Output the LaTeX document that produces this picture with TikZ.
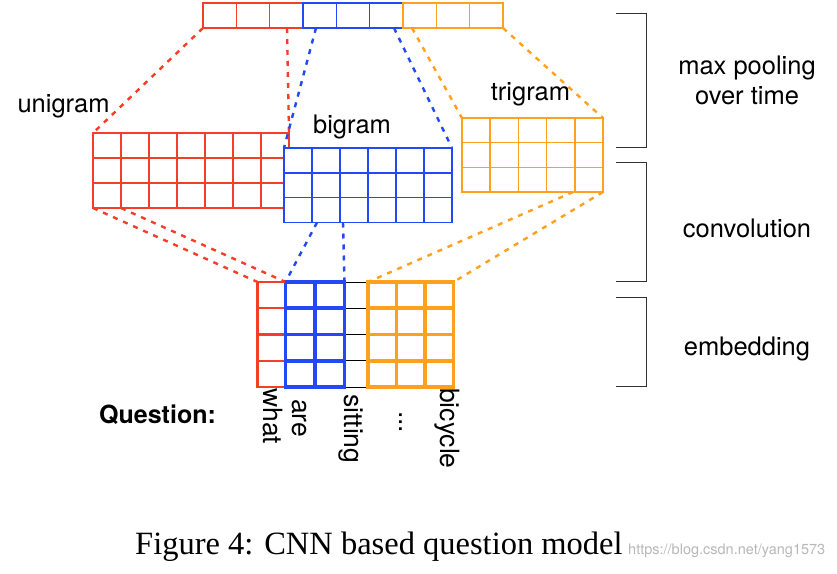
\documentclass[tikz,border=0pt]{standalone}
\usepackage{fontspec}
\setmainfont{Liberation Serif}
\newfontfamily\labelfont{TeX Gyre Heros}
\usetikzlibrary{calc}
\definecolor{myred}{RGB}{245,62,40}
\definecolor{myblue}{RGB}{35,72,245}
\definecolor{myorange}{RGB}{255,160,30}
\definecolor{brk}{RGB}{50,50,50}
\newcommand\mygridcols[3]{% name, cols, style
  \pgfmathtruncatemacro\mycolsm{#2-1}%
  \foreach \i in {1,...,\mycolsm}{\draw[#3] ($(#1.north west)!\i/#2!(#1.north east)$) -- ($(#1.south west)!\i/#2!(#1.south east)$);}%
}
\newcommand\mygridrows[3]{% name, rows, style
  \pgfmathtruncatemacro\myrowsm{#2-1}%
  \foreach \j in {1,...,\myrowsm}{\draw[#3] ($(#1.north west)!\j/#2!(#1.south west)$) -- ($(#1.north east)!\j/#2!(#1.south east)$);}%
}
\begin{document}
\begin{tikzpicture}[x=1pt,y=-1pt,
  box/.style={inner sep=0pt,outer sep=0pt,anchor=north west},
  thinred/.style={draw=myred,line width=1.5pt},
  thinblue/.style={draw=myblue,line width=1.5pt},
  thinorange/.style={draw=myorange,line width=1.5pt},
  dashr/.style={draw=myred,line width=2.4pt,dash pattern=on 5pt off 6pt},
  dashb/.style={draw=myblue,line width=2.4pt,dash pattern=on 5pt off 6pt},
  dasho/.style={draw=myorange,line width=2.4pt,dash pattern=on 5pt off 6pt},
  lbl/.style={font=\labelfont\fontsize{25.5}{30}\selectfont,inner sep=0pt,anchor=base},
  word/.style={font=\labelfont\fontsize{26.5}{30}\selectfont,inner sep=0pt,anchor=base west,rotate=-90},
  brack/.style={draw=brk,line width=1.5pt}]
\path[use as bounding box,fill=white] (0,0) rectangle (837,573);

% ---- top pooled vector
\node[box,thinred,fill=white,minimum width=100pt,minimum height=25pt] (barR) at (203,3) {};
\node[box,thinblue,fill=white,minimum width=100pt,minimum height=25pt] (barB) at (303,3) {};
\node[box,thinorange,fill=white,minimum width=100pt,minimum height=25pt] (barO) at (403,3) {};
\mygridcols{barR}{3}{thinred}
\mygridcols{barB}{3}{thinblue}
\mygridcols{barO}{3}{thinorange}

% ---- dashed connector end points
\coordinate (rTop2) at (287,28);
\coordinate (bTop1) at (316,28);
\coordinate (bTop2) at (394,28);
\coordinate (oTop1) at (412,28);
\coordinate (rBot2) at (121,208);
\coordinate (bBot1) at (317,222.5);
\coordinate (bBot2) at (343,222.5);
\coordinate (oBot1) at (573,192);

% ---- feature maps
\node[box,thinred,fill=white,minimum width=196pt,minimum height=75pt] (uni) at (93,133) {};
\mygridcols{uni}{7}{thinred}
\mygridrows{uni}{3}{thinred}
\node[box,thinblue,fill=white,minimum width=168pt,minimum height=74.5pt] (bi) at (284,148) {};
\mygridcols{bi}{6}{thinblue}
\mygridrows{bi}{3}{thinblue}
\node[box,thinorange,fill=white,minimum width=141pt,minimum height=74pt] (tri) at (462,118) {};
\mygridcols{tri}{5}{thinorange}
\mygridrows{tri}{3}{thinorange}

% ---- embedding
\node[box,minimum width=23.5pt,minimum height=105pt] (embK) at (344.5,282) {};
\foreach \k in {0,...,4}{\draw[black,line width=1pt] ($(embK.north west)!\k/4!(embK.south west)$) -- ($(embK.north east)!\k/4!(embK.south east)$);}
\node[box,draw=myred,line width=2.2pt,minimum width=28pt,minimum height=105pt] (embR) at (257.5,282) {};
\mygridrows{embR}{4}{draw=myred,line width=2.2pt}
\node[box,draw=myblue,line width=3.6pt,minimum width=59pt,minimum height=105pt] (embB) at (285.5,282) {};
\mygridcols{embB}{2}{draw=myblue,line width=3.6pt}
\mygridrows{embB}{4}{draw=myblue,line width=3.6pt}
\node[box,draw=myorange,line width=3.6pt,minimum width=85.5pt,minimum height=105pt] (embO) at (368,282) {};
\mygridcols{embO}{3}{draw=myorange,line width=3.6pt}
\mygridrows{embO}{4}{draw=myorange,line width=3.6pt}

% ---- dashed connectors
\draw[dashr] (barR.south west) -- (uni.north west);
\draw[dashr] (rTop2) -- (uni.north east);
\draw[dashb] (bTop1) -- (bi.north west);
\draw[dashb] (bTop2) -- (bi.north east);
\draw[dasho] (oTop1) -- (tri.north west);
\draw[dasho] (barO.south east) -- (tri.north east);
\draw[dashr] (uni.south west) -- (embR.north west);
\draw[dashr] (rBot2) -- (embR.north east);
\draw[dashb] (bBot1) -- (embB.north west);
\draw[dashb] (bBot2) -- (embB.north east);
\draw[dasho] (oBot1) -- (embO.north west);
\draw[dasho] (tri.south east) -- (embO.north east);

% ---- labels
\node[lbl] (lu) at (63.5,112.7) {unigram};
\node[lbl] (lb) at (352,133.3) {bigram};
\node[lbl] (lt) at (530.5,100) {trigram};
\node[lbl] (mp1) at (747,74) {max pooling};
\node[lbl] (mp2) at (747,104) {over time};
\node[lbl] (cv) at (747,237) {convolution};
\node[lbl] (em) at (747,355) {embedding};

% ---- brackets
\draw[brack] (616,13.3) -- (646.7,13.3) -- (646.7,147.3) -- (616,147.3);
\draw[brack] (616,162.7) -- (646.7,162.7) -- (646.7,281.7) -- (616,281.7);
\draw[brack] (616,297.3) -- (646.7,297.3) -- (646.7,386.7) -- (616,386.7);

% ---- question words
\node[font=\labelfont\bfseries\fontsize{25}{30}\selectfont,inner sep=0pt,anchor=base west] (q) at (99,423) {Question:};
\node[word] (w1) at (263,388) {what};
\node[word] (w2) at (292,399) {are};
\node[word] (w3) at (344,394) {sitting};
\node[word] (w4) at (399,411) {...};
\node[word] (w5) at (440,388) {bicycle};

% ---- caption
\node[font=\fontsize{32.5}{38}\selectfont,inner sep=0pt,anchor=base west] (cap) at (135,554) {Figure 4: CNN based question model};
\node[font=\labelfont\fontsize{14.5}{17}\selectfont,text=black!28,inner sep=0pt,anchor=base west] (wm) at (628,554) {https://blog.csdn.net/yang1573};
\end{tikzpicture}
\end{document}
